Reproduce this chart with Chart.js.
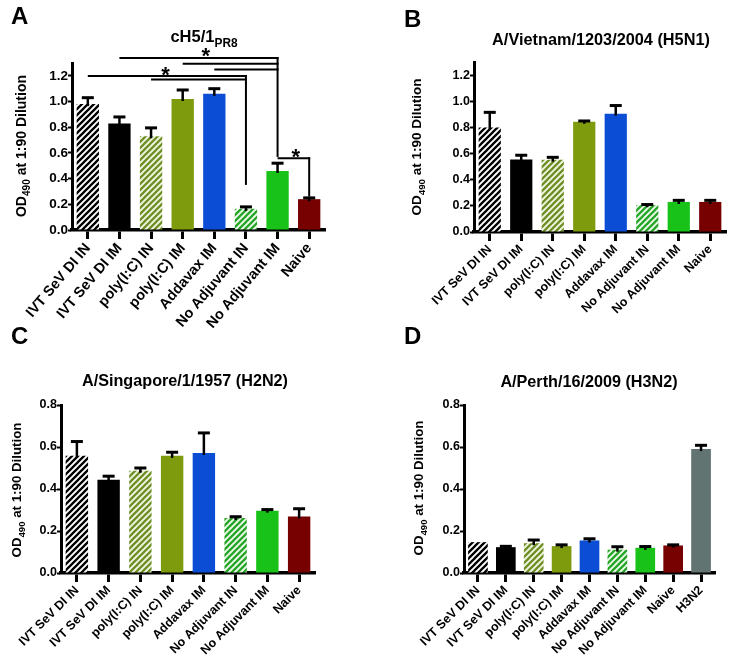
<!DOCTYPE html>
<html>
<head>
<meta charset="utf-8">
<script src="https://cdn.jsdelivr.net/npm/chart.js"></script>
<style>
  body { margin: 0; background: #fff; }
  #fig { position: relative; width: 734px; height: 661px; }
  canvas { position: absolute; }
  .letter { position: absolute; font: bold 24px "Liberation Sans", Arial, sans-serif; line-height: 24px; }
</style>
</head>
<body>
<div id="fig">
  <canvas id="chartA" width="367" height="330" style="left:0;top:0"></canvas>
  <canvas id="chartB" width="367" height="330" style="left:367px;top:0"></canvas>
  <canvas id="chartC" width="367" height="331" style="left:0;top:330px"></canvas>
  <canvas id="chartD" width="367" height="331" style="left:367px;top:330px"></canvas>
  <div class="letter" style="left:11px;top:4px">A</div>
  <div class="letter" style="left:404px;top:7px">B</div>
  <div class="letter" style="left:11px;top:324px">C</div>
  <div class="letter" style="left:404px;top:324px">D</div>
</div>
<script>
// groups
var groups = ['IVT SeV DI IN', 'IVT SeV DI IM', 'poly(I:C) IN', 'poly(I:C) IM', 'Addavax IM', 'No Adjuvant IN', 'No Adjuvant IM', 'Naive'];
var groupsD = groups.concat(['H3N2']);

// OD490 means and upper SEM
var valuesA = [0.98, 0.83, 0.73, 1.02, 1.06, 0.165, 0.46, 0.24];
var errorsA = [0.05, 0.05, 0.065, 0.07, 0.04, 0.015, 0.06, 0.01];
var valuesB = [0.80, 0.555, 0.553, 0.843, 0.905, 0.205, 0.23, 0.23];
var errorsB = [0.115, 0.032, 0.018, 0.006, 0.062, 0.005, 0.012, 0.012];
var valuesC = [0.558, 0.444, 0.487, 0.558, 0.572, 0.262, 0.297, 0.269];
var errorsC = [0.068, 0.017, 0.013, 0.017, 0.095, 0.006, 0.005, 0.037];
var valuesD = [0.147, 0.123, 0.142, 0.128, 0.155, 0.111, 0.12, 0.131, 0.59];
var errorsD = [0, 0.004, 0.015, 0.006, 0.008, 0.014, 0.006, 0.003, 0.018];

var ticksAB = [0, 0.2, 0.4, 0.6, 0.8, 1.0, 1.2];
var ticksCD = [0, 0.2, 0.4, 0.6, 0.8];

// significance marks in panel A: [from group, to group, level], [group, top, bottom], [x, y]
var sigLinesA = [[0, 5, 1.198], [2, 5, 1.171], [1, 6, 1.338], [3, 6, 1.294], [4, 6, 1.249], [6, 7, 0.558]];
var sigDropsA = [[5, 1.198, 0.351], [6, 1.338, 0.569], [7, 0.558, 0.26]];
var sigStarsA = [[2.46, 1.239], [3.73, 1.387], [6.58, 0.60]];

var FONT = '"Liberation Sans", Arial, sans-serif';
Chart.defaults.font.family = FONT;
Chart.defaults.color = '#000';

function hatch(fg, bg) {
  var s = 6, c = document.createElement('canvas');
  c.width = s; c.height = s;
  var g = c.getContext('2d');
  g.fillStyle = bg; g.fillRect(0, 0, s, s);
  g.strokeStyle = fg; g.lineWidth = 2.3;
  g.beginPath();
  g.moveTo(0, s); g.lineTo(s, 0);
  g.moveTo(-1, 1); g.lineTo(1, -1);
  g.moveTo(s - 1, s + 1); g.lineTo(s + 1, s - 1);
  g.stroke();
  return g.createPattern(c, 'repeat');
}

var fills = [
  hatch('#000', '#fff'), '#000', hatch('#6e9024', '#f3f6e6'), '#7d9b0d',
  '#0b4ed5', hatch('#27a627', '#eefaee'), '#18c218', '#770000', '#617471'
];

function drawParts(ctx, parts, size, cx, by) {
  var w = 0;
  parts.forEach(function (p) {
    ctx.font = 'bold ' + (p.sub ? size * 0.72 : size) + 'px ' + FONT;
    p.w = ctx.measureText(p.t).width; w += p.w;
  });
  var x = cx - w / 2;
  parts.forEach(function (p) {
    ctx.font = 'bold ' + (p.sub ? size * 0.72 : size) + 'px ' + FONT;
    ctx.fillText(p.t, x, by + (p.sub ? size * 0.32 : 0));
    x += p.w;
  });
}

var extras = {
  id: 'extras',
  afterDraw: function (chart, args, o) {
    var ctx = chart.ctx, x = chart.scales.x, y = chart.scales.y;
    var meta = chart.getDatasetMeta(0), vals = chart.data.datasets[0].data;
    ctx.save();
    ctx.fillStyle = '#000'; ctx.strokeStyle = '#000';
    // error bars
    meta.data.forEach(function (bar, i) {
      var e = o.errs[i];
      if (!e) return;
      var yt = y.getPixelForValue(vals[i] + e);
      ctx.lineWidth = 2.5;
      ctx.beginPath(); ctx.moveTo(bar.x, bar.y + 2); ctx.lineTo(bar.x, yt); ctx.stroke();
      ctx.lineWidth = 3;
      ctx.beginPath(); ctx.moveTo(bar.x - 6, yt); ctx.lineTo(bar.x + 6, yt); ctx.stroke();
    });
    // significance brackets
    ctx.lineWidth = 2;
    (o.lines || []).forEach(function (l) {
      var py = y.getPixelForValue(l[2]);
      ctx.beginPath(); ctx.moveTo(x.getPixelForValue(l[0]), py); ctx.lineTo(x.getPixelForValue(l[1]) + 1, py); ctx.stroke();
    });
    (o.drops || []).forEach(function (d) {
      var px = x.getPixelForValue(d[0]);
      ctx.beginPath(); ctx.moveTo(px, y.getPixelForValue(d[1]) - 1); ctx.lineTo(px, y.getPixelForValue(d[2])); ctx.stroke();
    });
    ctx.textAlign = 'center'; ctx.textBaseline = 'alphabetic';
    ctx.font = 'bold 22px ' + FONT;
    (o.stars || []).forEach(function (s) {
      ctx.fillText('*', x.getPixelForValue(s[0]), y.getPixelForValue(s[1]) + 0.52 * 22);
    });
    // title
    ctx.textAlign = 'left';
    drawParts(ctx, o.title, o.titleSize, o.titleX, o.titleY);
    // y axis title
    ctx.translate(o.yTitleX, o.yTitleY);
    ctx.rotate(-Math.PI / 2);
    drawParts(ctx, [{ t: 'OD' }, { t: '490', sub: true }, { t: ' at 1:90 Dilution' }], o.yTitleSize, 0, 5);
    ctx.restore();
  }
};

function panel(id, labels, values, errs, yMax, tickVals, box, fs, opts) {
  var H = document.getElementById(id).height;
  new Chart(document.getElementById(id), {
    type: 'bar',
    data: {
      labels: labels,
      datasets: [{
        data: values,
        backgroundColor: fills.slice(0, labels.length),
        borderWidth: 0,
        barPercentage: 0.84,
        categoryPercentage: 0.84
      }]
    },
    plugins: [extras],
    options: {
      responsive: false,
      animation: false,
      layout: { padding: { top: box.top, right: box.right, left: 0, bottom: 0 } },
      plugins: {
        legend: { display: false },
        tooltip: { enabled: false },
        extras: opts
      },
      scales: {
        x: {
          afterFit: function (s) { s.height = H - box.bottom; },
          grid: { offset: false, drawOnChartArea: false, drawTicks: true, tickLength: 9, tickWidth: 3, color: '#000' },
          border: { display: true, color: '#000', width: 3.5 },
          ticks: { autoSkip: false, minRotation: fs.rot, maxRotation: fs.rot, padding: 1, font: { size: fs.x, weight: 'bold' }, color: '#000' }
        },
        y: {
          min: 0, max: yMax,
          afterFit: function (s) { s.width = box.left; },
          afterBuildTicks: function (s) { s.ticks = tickVals.map(function (v) { return { value: v }; }); },
          grid: { drawOnChartArea: false, drawTicks: true, tickLength: 4, tickWidth: 2, color: '#000' },
          border: { display: true, color: '#000', width: 3 },
          ticks: { padding: 0, font: { size: fs.y, weight: 'bold' }, color: '#000',
                   callback: function (v) { return Number(v).toFixed(1); } }
        }
      }
    }
  });
}

panel('chartA', groups, valuesA, errorsA, 1.3, ticksAB, { left: 72, top: 63, right: 42, bottom: 230 }, { x: 14.5, y: 13.5, rot: 50 },
  { errs: errorsA, lines: sigLinesA, drops: sigDropsA, stars: sigStarsA,
    title: [{ t: 'cH5/1' }, { t: 'PR8', sub: true }], titleSize: 16.5, titleX: 204, titleY: 42,
    yTitleX: 21, yTitleY: 146, yTitleSize: 14 });
panel('chartB', groups, valuesB, errorsB, 1.3, ticksAB, { left: 107, top: 62, right: 8, bottom: 232 }, { x: 12.5, y: 12.5, rot: 45 },
  { errs: errorsB, title: [{ t: 'A/Vietnam/1203/2004 (H5N1)' }], titleSize: 16.3, titleX: 234, titleY: 45,
    yTitleX: 49, yTitleY: 147, yTitleSize: 13.5 });
panel('chartC', groups, valuesC, errorsC, 0.8, ticksCD, { left: 61, top: 75, right: 52, bottom: 243 }, { x: 12.5, y: 12.5, rot: 45 },
  { errs: errorsC, title: [{ t: 'A/Singapore/1/1957 (H2N2)' }], titleSize: 16.2, titleX: 185, titleY: 56,
    yTitleX: 16, yTitleY: 160, yTitleSize: 13.3 });
panel('chartD', groupsD, valuesD, errorsD, 0.8, ticksCD, { left: 97, top: 75, right: 19, bottom: 243 }, { x: 12.5, y: 12.5, rot: 45 },
  { errs: errorsD, title: [{ t: 'A/Perth/16/2009 (H3N2)' }], titleSize: 16.2, titleX: 222, titleY: 57,
    yTitleX: 51, yTitleY: 158, yTitleSize: 13.3 });
</script>
</body>
</html>
